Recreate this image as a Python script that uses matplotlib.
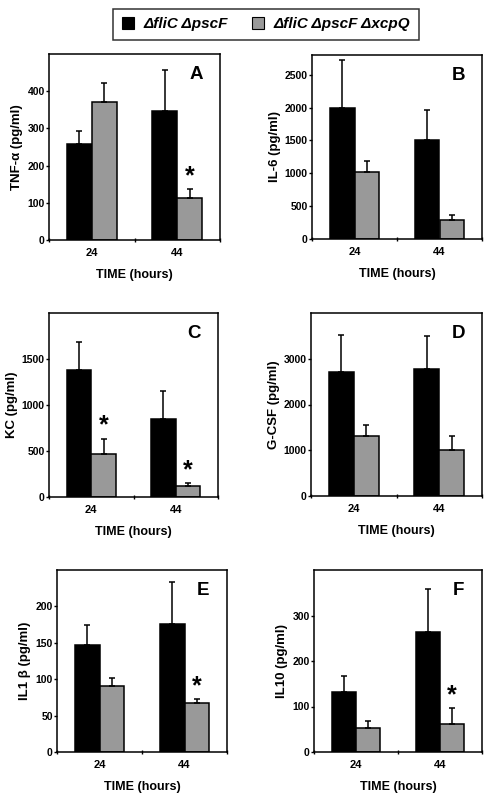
import matplotlib
matplotlib.use("Agg")
import matplotlib.pyplot as plt
from matplotlib.patches import Patch
import numpy as np

plt.rcParams['font.family'] = ['Liberation Sans', 'DejaVu Sans']
plt.rcParams['font.weight'] = 'bold'

times = ["24", "44"]
series = ["\u0394fliC \u0394pscF", "\u0394fliC \u0394pscF \u0394xcpQ"]
colors = ["#000000", "#999999"]

panels = ["A", "B", "C", "D", "E", "F"]
ylabels = ["TNF-\u03b1 (pg/ml)", "IL-6 (pg/ml)", "KC (pg/ml)",
           "G-CSF (pg/ml)", "IL1 \u03b2 (pg/ml)", "IL10 (pg/ml)"]
ymax = [500, 2800, 2000, 4000, 250, 400]
ystep = [100, 500, 500, 1000, 50, 100]

# mean values per panel, at 24 h and 44 h
black_mean = [[258, 348], [1990, 1500], [1385, 850], [2700, 2780], [147, 176], [131, 263]]
black_err = [[34, 108], [728, 470], [300, 305], [820, 720], [27, 58], [37, 96]]
gray_mean = [[371, 112], [1025, 285], [464, 120], [1311, 1015], [91, 67], [53, 61]]
gray_err = [[52, 25], [165, 85], [170, 35], [232, 296], [11, 6], [16, 36]]
stars = [[False, True], [False, False], [True, True], [False, False], [False, True], [False, True]]

# axes boxes in pixels: left, right, top, bottom
boxes = [(49, 220, 54, 240), (312, 482, 55, 239),
         (49, 218, 313, 497), (311, 482, 313, 496),
         (57, 227, 570, 752), (314, 482, 570, 752)]

W, H = 484, 793
fig = plt.figure(figsize=(W / 100, H / 100), dpi=100)

x = np.arange(len(times))
w = 0.29
ekw = dict(ecolor="black", elinewidth=1.1, capsize=2.5, capthick=1.1)

for i in range(6):
    l, r, t, b = boxes[i]
    ax = fig.add_axes([l / W, 1 - b / H, (r - l) / W, (b - t) / H])
    ax.bar(x - w / 2, black_mean[i], w, color=colors[0], edgecolor="black", linewidth=1.1,
           yerr=[[0, 0], black_err[i]], error_kw=ekw)
    ax.bar(x + w / 2, gray_mean[i], w, color=colors[1], edgecolor="black", linewidth=1.1,
           yerr=[[0, 0], gray_err[i]], error_kw=ekw)
    for j in range(2):
        if stars[i][j]:
            ytop = gray_mean[i][j] + gray_err[i][j]
            ax.text(x[j] + w / 2, ytop + ymax[i] * 0.005, "*", ha="center", va="bottom",
                    fontsize=18, fontweight="bold")
    ax.set_xlim(-0.5, 1.5)
    ax.set_ylim(0, ymax[i])
    ax.set_yticks(np.arange(0, ymax[i], ystep[i]))
    ax.tick_params(axis="y", labelsize=7.5, length=2, width=1, direction="out", pad=1)
    ax.set_xticks([-0.5, 0.5, 1.5])
    ax.set_xticklabels([])
    ax.tick_params(axis="x", which="major", length=3, width=1, direction="inout")
    ax.set_xticks(x, minor=True)
    ax.set_xticklabels(times, minor=True)
    ax.tick_params(axis="x", which="minor", length=0, labelsize=8, pad=6)
    for s in ax.spines.values():
        s.set_linewidth(1.1)
    ax.set_ylabel(ylabels[i], fontsize=9.5, fontweight="bold", labelpad=3)
    ax.set_xlabel("TIME (hours)", fontsize=9, fontweight="bold", labelpad=8)
    ax.text(0.86, 0.89, panels[i], transform=ax.transAxes, ha="center", va="center",
            fontsize=13.5, fontweight="bold")

handles = [Patch(facecolor=c, edgecolor="black", linewidth=0.8) for c in colors]
leg = fig.legend(handles, series, loc="upper center", bbox_to_anchor=(266 / W, 1 - 1 / H),
                 ncol=2, frameon=True, fancybox=False, edgecolor="black",
                 prop=dict(family="Liberation Sans", weight="bold", style="italic", size=11),
                 handlelength=0.8, handleheight=0.8, handletextpad=0.6, columnspacing=1.6,
                 borderpad=0.55)
leg.get_frame().set_linewidth(1.1)

fig.savefig("out.png", dpi=100)
